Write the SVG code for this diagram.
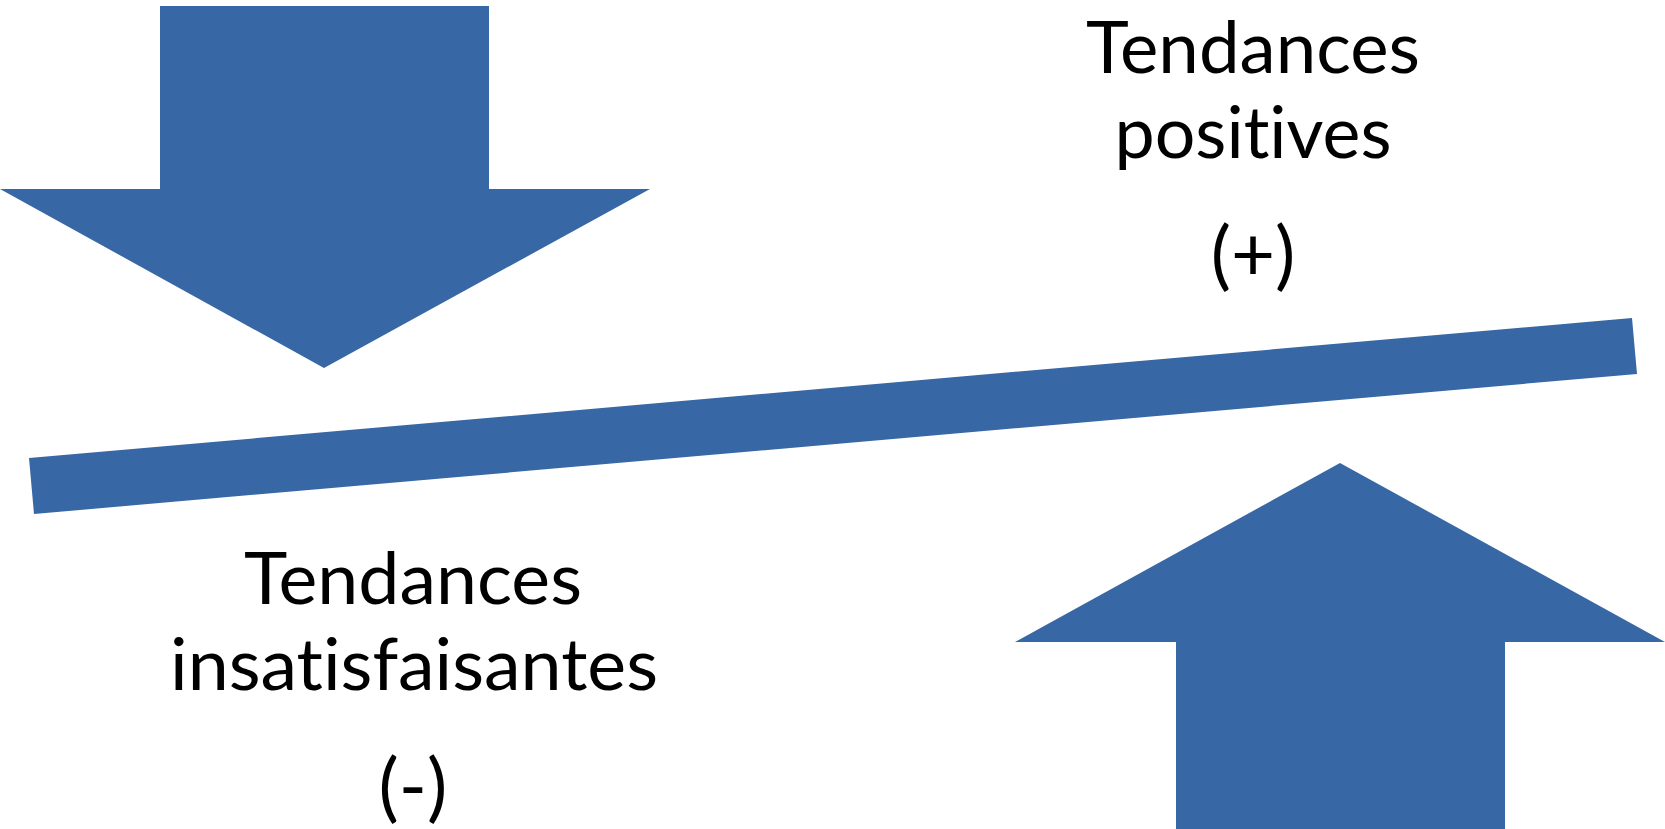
<svg xmlns="http://www.w3.org/2000/svg" width="1665" height="829" viewBox="0 0 1665 829">
<style>
.shape{fill:#3767A5;stroke:none}
.lbl{font-family:Lato,"Open Sans","Liberation Sans",sans-serif;font-size:72px;fill:#000;text-anchor:middle;font-variant-ligatures:none;font-feature-settings:"liga" 0,"clig" 0}
.par{font-size:76px}
</style>
<rect width="1665" height="829" fill="#fff"/>
<g id="arrow-down">
<polygon class="shape" points="160,6 489,6 489,189 650,189 324,368 0,189 160,189"/>
</g>
<g id="beam">
<polygon class="shape" points="29,458 1632,318 1637,374 34,514"/>
</g>
<g id="arrow-up">
<polygon class="shape" points="1340,463 1665,642 1505,642 1505,829 1176,829 1176,642 1015,642"/>
</g>
<g id="label-positive">
<text class="lbl" x="1253" y="73" textLength="334" lengthAdjust="spacingAndGlyphs">Tendances</text>
<text class="lbl" x="1253" y="158" textLength="277" lengthAdjust="spacingAndGlyphs">positives</text>
<text class="lbl par" x="1253" y="281">(+)</text>
</g>
<g id="label-negative">
<text class="lbl" x="413" y="604" textLength="338" lengthAdjust="spacingAndGlyphs">Tendances</text>
<text class="lbl" x="414" y="690" textLength="488" lengthAdjust="spacingAndGlyphs">insatisfaisantes</text>
<text class="lbl par" x="413" y="813">(-)</text>
</g>
</svg>
